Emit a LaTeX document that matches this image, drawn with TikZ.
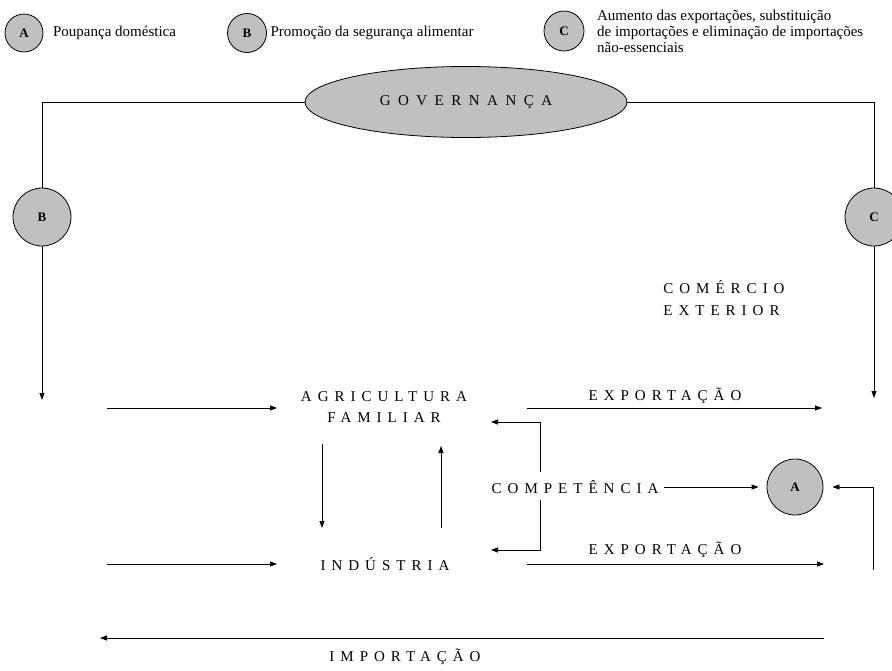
\documentclass[tikz,border=0pt]{standalone}
\usepackage{fontspec}
\setmainfont{Liberation Serif}
\newfontfamily\spaced[LetterSpace=40]{Liberation Serif}
\newfontfamily\widespaced[LetterSpace=50]{Liberation Serif}
\usetikzlibrary{positioning,shapes.geometric,arrows.meta}
\definecolor{discgray}{RGB}{192,192,192}

\begin{document}
\begin{tikzpicture}[
    x=1pt, y=-1pt,
    >={Triangle[length=7pt,width=5pt]},
    line width=0.8pt,
    every node/.style={font=\fontsize{15}{16}\selectfont},
    disc/.style={draw, circle, fill=discgray, inner sep=0pt, font=\fontsize{13}{13}\selectfont\bfseries},
    sector/.style={inner sep=0pt, font=\fontsize{15}{21}\selectfont\spaced}
]
    \useasboundingbox (0,0) rectangle (892,670);

    % legend
    \node (legA) [disc, minimum size=38pt] at (24,33) {A};
    \node (legAtxt) [right=6pt of legA] {Poupança doméstica};
    \node (legB) [disc, minimum size=39pt] at (247,33) {B};
    \node (legBtxt) [right=0pt of legB] {Promoção da segurança alimentar};
    \node (legC) [disc, minimum size=40pt] at (564,31) {C};
    \node (legCtxt) [right=9pt of legC, align=left] {Aumento das exportações, substituição\\de importações e eliminação de importações\\não-essenciais};

    % governanca
    \node (gov) [draw, ellipse, fill=discgray, minimum width=322pt, minimum height=71pt,
        font=\fontsize{15}{16}\selectfont\widespaced] at (466,102) {GOVERNANÇA};
    \node (circB) [disc, minimum size=58pt] at (42,217) {B};
    \node (circC) [disc, minimum size=58pt] at (874,217) {C};
    \coordinate (bDown) at (42,400);
    \coordinate (cDown) at (874,398);

    \draw (gov.west) -| (circB.north);
    \draw (gov.east) -| (circC.north);
    \draw[->] (circB.south) -- (bDown);
    \draw[->] (circC.south) -- (cDown);

    % sectors
    \node (comext) [sector, align=left, anchor=west, font=\fontsize{15}{22}\selectfont\spaced] at (663,298) {COMÉRCIO\\EXTERIOR};
    \node (agri) [sector, align=center] at (384,407) {AGRICULTURA\\FAMILIAR};
    \node (ind) [sector] at (385,564) {INDÚSTRIA};
    \node (comp) [sector] at (575,487) {COMPETÊNCIA};
    \node (expA) [sector] at (665,396) {EXPORTAÇÃO};
    \node (expB) [sector] at (665,550) {EXPORTAÇÃO};
    \node (imp) [sector, anchor=base] at (405,661) {IMPORTAÇÃO};
    \node (circA) [disc, minimum width=56pt, minimum height=54pt] at (795,487) {A};

    % arrow ends
    \coordinate (inA) at (107,408);
    \coordinate (tipA) at (277,408);
    \coordinate (inB) at (107,564);
    \coordinate (tipB) at (277,564);
    \coordinate (outA) at (527,408);
    \coordinate (endA) at (822,408);
    \coordinate (outB) at (527,564);
    \coordinate (endB) at (824,564);
    \coordinate (dTop) at (322,444);
    \coordinate (dBot) at (322,528);
    \coordinate (uBot) at (441,528);
    \coordinate (uTop) at (441,446);
    \coordinate (brkT) at (540,472);
    \coordinate (brkB) at (540,500);
    \coordinate (agriR) at (491,422);
    \coordinate (indR) at (491,550);
    \coordinate (rBot) at (873,570);
    \coordinate (impR) at (824,638);
    \coordinate (impL) at (100,638);

    \draw[->] (inA) -- (tipA);
    \draw[->] (inB) -- (tipB);
    \draw[->] (outA) -- (endA);
    \draw[->] (outB) -- (endB);
    \draw[->] (dTop) -- (dBot);
    \draw[->] (uBot) -- (uTop);
    \draw[->] (brkT) |- (agriR);
    \draw[->] (brkB) |- (indR);
    \draw[->, shorten <=5pt, shorten >=8pt] (comp.east) -- (circA.west);
    \draw[->, shorten >=9pt] (rBot) |- (circA.east);
    \draw[->] (impR) -- (impL);
\end{tikzpicture}
\end{document}
